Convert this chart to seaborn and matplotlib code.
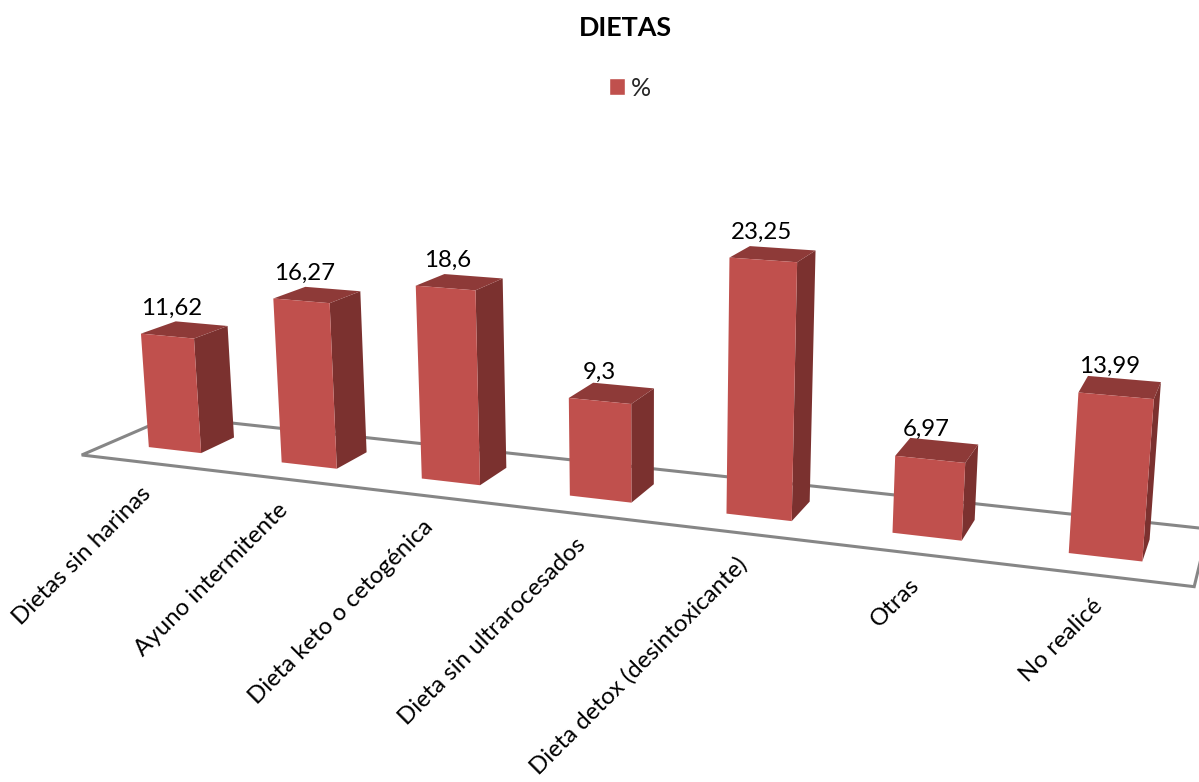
import numpy as np
import matplotlib
matplotlib.use("Agg")
import matplotlib.pyplot as plt
from matplotlib.patches import Polygon, Patch
from matplotlib.transforms import Transform, IdentityTransform
import seaborn as sns

categories = ["Dietas sin harinas", "Ayuno intermitente", "Dieta keto o cetogénica",
              "Dieta sin ultrarocesados", "Dieta detox (desintoxicante)", "Otras", "No realicé"]
percent = [11.62, 16.27, 18.6, 9.3, 23.25, 6.97, 13.99]
value_labels = ["11,62", "16,27", "18,6", "9,3", "23,25", "6,97", "13,99"]
series_name = "%"
chart_title = "DIETAS"

W, H = 1199, 782
FRONT, TOP, SIDE, FLOOR = "#C0504D", "#8E3A38", "#7B312F", "#868686"

# Camera of the 3D view: (category, value, depth) -> image pixels
CAMERA = np.array([[126.16702794, -0.8728515, 39.49520662, 174.8422727],
                   [3.28675459, -10.2670259, -2.83095317, 450.07909931],
                   [-0.02615408, -0.00135495, 0.02903451, 1.0]])
BAR_WIDTH = 0.40
DEPTH = 1.0
FLOOR_U = (-0.5, 6.5)
FLOOR_Z = (-0.78, 1.78)


def project(u, v, z):
    p = CAMERA @ np.array([u, v, z, 1.0])
    return np.array([p[0] / p[2], H - p[1] / p[2]])


class FrontPlane(Transform):
    input_dims = output_dims = 2
    is_separable = False
    has_inverse = False

    def transform_non_affine(self, xy):
        xy = np.asarray(xy, float)
        return np.array([project(a, b, 0.0) for a, b in xy])


sns.set_theme(style="white")
plt.rcParams["font.family"] = ["Lato", "DejaVu Sans"]
fig = plt.figure(figsize=(W / 100, H / 100), dpi=100, facecolor="white")
ax = fig.add_axes([0, 0, 1, 1])

sns.barplot(x=categories, y=percent, color=FRONT, width=BAR_WIDTH, saturation=1,
            ax=ax, zorder=3, legend=False)
ax.axis("off")

front_tf = FrontPlane()
px = IdentityTransform()

# floor
corners = [project(FLOOR_U[0], 0, FLOOR_Z[0]), project(FLOOR_U[1], 0, FLOOR_Z[0]),
           project(FLOOR_U[1], 0, FLOOR_Z[1]), project(FLOOR_U[0], 0, FLOOR_Z[1])]
ax.add_patch(Polygon(corners, closed=True, facecolor="white", edgecolor=FLOOR, lw=2.2,
                     transform=px, clip_on=False, zorder=1, joinstyle="miter"))

# bars: seaborn's rectangles become the front faces, side and top faces extend them
for i, bar in enumerate(ax.patches[:len(percent)]):
    x0, x1 = bar.get_x(), bar.get_x() + bar.get_width()
    v = bar.get_height()
    bar.set_transform(front_tf)
    bar.set_clip_on(False)
    bar.set_linewidth(0)
    bar.set_zorder(3 + i * 0.1 + 0.02)
    side = [project(x1, 0, 0), project(x1, v, 0), project(x1, v, DEPTH), project(x1, 0, DEPTH)]
    top = [project(x0, v, 0), project(x1, v, 0), project(x1, v, DEPTH), project(x0, v, DEPTH)]
    ax.add_patch(Polygon(side, closed=True, facecolor=SIDE, edgecolor="none", transform=px,
                         clip_on=False, zorder=3 + i * 0.1))
    ax.add_patch(Polygon(top, closed=True, facecolor=TOP, edgecolor="none", transform=px,
                         clip_on=False, zorder=3 + i * 0.1 + 0.01))
    cx, cy = project((x0 + x1) / 2, v, 0.4)
    ax.annotate(value_labels[i], xy=(cx, cy), xycoords=px, xytext=(-7, 16.2),
                textcoords="offset points", ha="center", va="center",
                fontsize=17.3, color="black", zorder=6, annotation_clip=False)
    # category labels, slanted at the front edge of the floor
    tx, ty = project((x0 + x1) / 2, 0, FLOOR_Z[0])
    ax.annotate(categories[i], xy=(tx, ty), xycoords=px, xytext=(0.5, -20),
                textcoords="offset points", ha="right", va="center", rotation=45,
                rotation_mode="anchor", fontsize=17.3, color="black", annotation_clip=False)

fig.text(625 / W, 1 - 28 / H, chart_title, ha="center", va="center", fontsize=19.4,
         fontweight="bold", color="black")
leg = ax.legend(handles=[Patch(facecolor=FRONT, label=series_name)], frameon=False,
                loc="center", bbox_to_anchor=(630 / W, 1 - 88 / H), fontsize=18,
                handlelength=0.65, handleheight=0.65, handletextpad=0.25, borderpad=0)
fig.savefig("out.png", dpi=100, facecolor="white")
